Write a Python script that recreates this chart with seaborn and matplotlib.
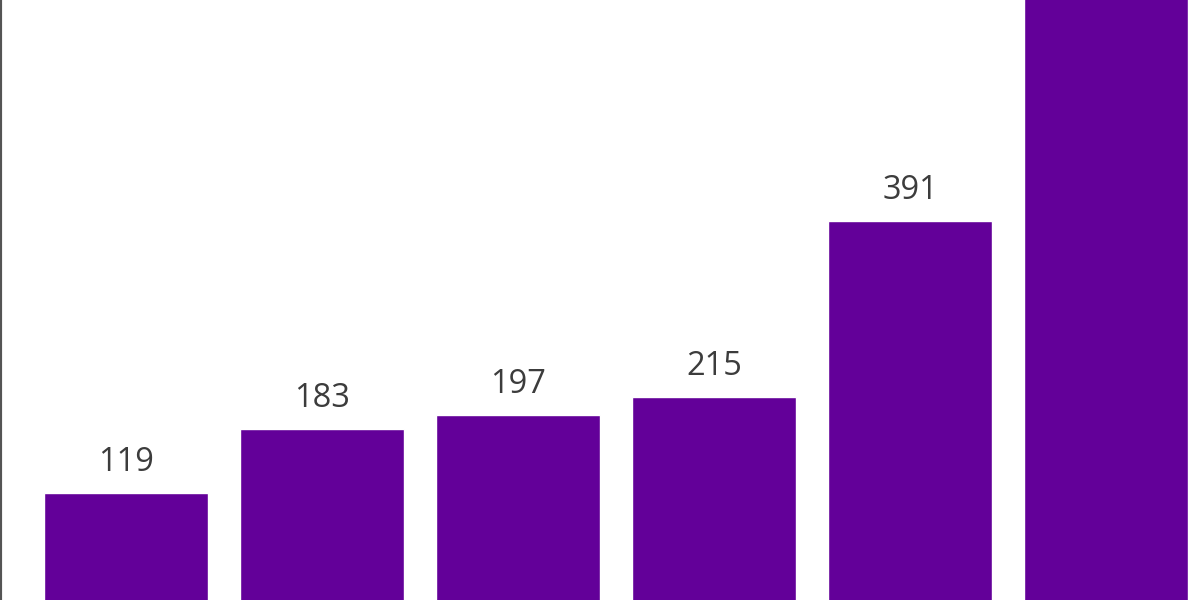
import matplotlib
matplotlib.use("Agg")
import matplotlib.pyplot as plt
import seaborn as sns
import pandas as pd

categories = ["A", "B", "C", "D", "E", "F"]
values = [119, 183, 197, 215, 391, 700]
labels = ["119", "183", "197", "215", "391", "700"]

sns.set_style("white")
plt.rcParams['font.family'] = ['Open Sans', 'DejaVu Sans']

df = pd.DataFrame({"cat": categories, "val": values})

fig = plt.figure(figsize=(12, 6), dpi=100)
ax = fig.add_axes([0, 0, 1, 1])
sns.barplot(data=df, x="cat", y="val", color="#630099", saturation=1,
            width=0.835, ax=ax)

ax.set_xlim(-0.643, 5.48)
ax.set_ylim(12, 612)
for s in ["top", "right", "bottom"]:
    ax.spines[s].set_visible(False)
ax.spines["left"].set_color("#555555")
ax.spines["left"].set_linewidth(3)
ax.set_xticks([])
ax.set_yticks([])
ax.set_xlabel("")
ax.set_ylabel("")

for i, (v, lab) in enumerate(zip(values, labels)):
    ax.annotate(lab, (i, v), xytext=(0, 10), textcoords="offset points",
                ha="center", va="bottom", fontsize=23.5, color="#3c3c3c")

fig.savefig("out.png", dpi=100)
